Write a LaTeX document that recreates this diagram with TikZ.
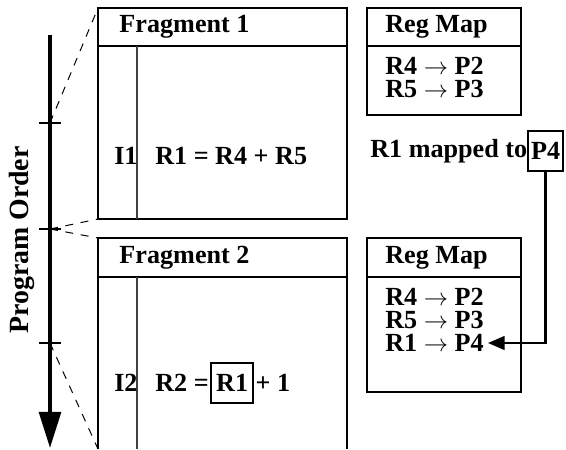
\documentclass[tikz,border=0pt]{standalone}
\usepackage{fontspec}
\setmainfont{Liberation Serif}
\usetikzlibrary{arrows.meta,positioning,calc}
\tikzset{
  frag/frame/.style={draw=black, line width=0.8pt},
  frag/divider/.style={draw=black!75, line width=0.8pt},
  frag/text/.style={
    font=\fontsize{18.6}{22}\selectfont\bfseries,
    inner sep=0pt,
    anchor=west
  },
  frag/boxed/.style={
    draw=black,
    line width=1.3pt,
    font=\fontsize{18.6}{22}\selectfont\bfseries,
    inner xsep=2pt,
    inner ysep=0pt,
    minimum height=1.02cm
  },
  frag/order/.style={-{Triangle[length=0.9cm,width=0.55cm]}, line width=2.2pt},
  frag/tick/.style={line width=0.8pt},
  frag/guide/.style={line width=0.7pt, dash pattern=on 0.2cm off 0.19cm},
  frag/route/.style={-{Triangle[length=0.42cm,width=0.34cm]}, line width=2pt}
}

\begin{document}
\begin{tikzpicture}[x=1cm,y=1cm]
  \useasboundingbox (0,0) rectangle (14.15,11.225);

  % program order axis
  \coordinate (ordertop) at (1.25,10.35);
  \coordinate (orderend) at (1.25,0.03);
  \coordinate (tickA) at (1.25,8.15);
  \coordinate (tickB) at (1.25,5.5);
  \coordinate (tickC) at (1.25,2.65);
  \draw[frag/order] (ordertop) -- (orderend);
  \foreach \t in {tickA,tickB,tickC}
    \draw[frag/tick] ($(\t)+(-0.27,0)$) -- ($(\t)+(0.27,0)$);
  \node[frag/text, anchor=center, rotate=90, font=\fontsize{19.8}{23}\selectfont\bfseries] (order) at (0.55,5.225) {Program Order};

  % fragment 1
  \coordinate (f1nw) at (2.45,11.025);
  \coordinate (f1sw) at (2.45,5.75);
  \draw[frag/frame] (f1nw) rectangle (8.675,5.75);
  \draw[frag/frame] (2.45,10.075) -- (8.675,10.075);
  \draw[frag/divider] (3.425,10.075) -- (3.425,5.75);
  \node[frag/text] (frag1) at (2.98,10.55) {Fragment 1};
  \node[frag/text] (i1) at (2.85,7.325) {I1};
  \node[frag/text] (i1op) at (3.875,7.325) {R1 = R4 + R5};

  % fragment 2 (open at the bottom)
  \coordinate (f2nw) at (2.45,5.275);
  \coordinate (f2sw) at (2.45,0);
  \draw[frag/frame] (f2sw) -- (f2nw) -- (8.675,5.275) -- (8.675,0);
  \draw[frag/frame] (2.45,4.3) -- (8.675,4.3);
  \draw[frag/divider] (3.425,4.3) -- (3.425,0);
  \node[frag/text] (frag2) at (2.98,4.775) {Fragment 2};
  \node[frag/text] (i2) at (2.85,1.65) {I2};
  \node[frag/text] (i2op) at (3.875,1.65) {R2 =};
  \node[frag/boxed, inner xsep=3.5pt, right=1pt of i2op] (i2src) {R1};
  \node[frag/text, right=1pt of i2src] (i2rest) {+ 1};

  % guide lines
  \draw[frag/guide] (tickA) -- (f1nw);
  \draw[frag/guide] (tickB) -- (f1sw);
  \draw[frag/guide] (tickB) -- (f2nw);
  \draw[frag/guide] (tickC) -- (f2sw);

  % register maps
  \draw[frag/frame] (9.175,11.025) rectangle (13.025,8.35);
  \draw[frag/frame] (9.175,10.075) -- (13.025,10.075);
  \node[frag/text] (map1) at (9.625,10.55) {Reg Map};
  \node[frag/text] (map1a) at (9.625,9.575) {R4 $\rightarrow$ P2};
  \node[frag/text] (map1b) at (9.625,9.0) {R5 $\rightarrow$ P3};

  \draw[frag/frame] (9.175,5.275) rectangle (13.025,1.425);
  \draw[frag/frame] (9.175,4.3) -- (13.025,4.3);
  \node[frag/text] (map2) at (9.625,4.775) {Reg Map};
  \node[frag/text] (map2a) at (9.625,3.8) {R4 $\rightarrow$ P2};
  \node[frag/text] (map2b) at (9.625,3.225) {R5 $\rightarrow$ P3};
  \node[frag/text] (map2c) at (9.625,2.65) {R1 $\rightarrow$ P4};

  % new mapping
  \node[frag/text] (mapped) at (9.25,7.45) {R1 mapped to};
  \node[frag/boxed, right=0pt of mapped] (newreg) {P4};
  \draw[frag/route] (newreg.south) |- ($(map2c.east)+(0.1,0)$);
\end{tikzpicture}
\end{document}
